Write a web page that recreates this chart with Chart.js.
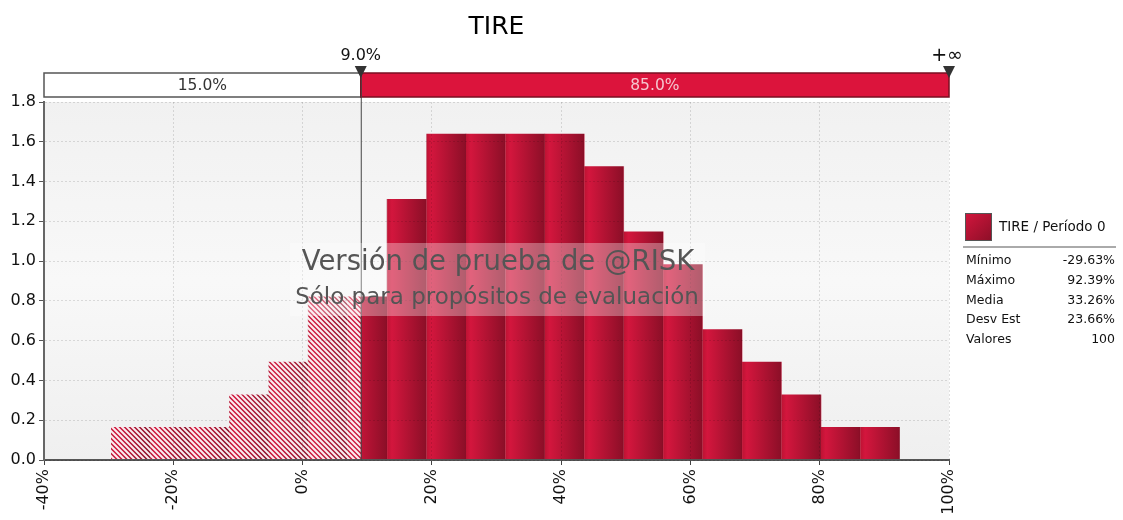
<!DOCTYPE html>
<html>
<head>
<meta charset="utf-8">
<script src="https://cdn.jsdelivr.net/npm/chart.js@4/dist/chart.umd.min.js"></script>
<style>
  html, body { margin: 0; padding: 0; background: #fff; }
  #wrap { width: 1123px; height: 520px; position: relative; }
</style>
</head>
<body>
<div id="wrap"><canvas id="hist"></canvas></div>
<script>
// histogram of TIRE (100 iterations), 20 bins
const binCenters = [-26.58, -20.48, -14.38, -8.28, -2.18, 3.92, 10.03, 16.13, 22.23, 28.33,
                    34.43, 40.53, 46.63, 52.73, 58.83, 64.93, 71.04, 77.14, 83.24, 89.34];
const binWidth = 6.101;
const density = [0.164, 0.164, 0.164, 0.328, 0.492, 0.820, 0.820, 1.311, 1.639, 1.639,
                 1.639, 1.639, 1.475, 1.147, 0.983, 0.656, 0.492, 0.328, 0.164, 0.164];
const xTicks = [-40, -20, 0, 20, 40, 60, 80, 100];
const yTicks = [0, 0.2, 0.4, 0.6, 0.8, 1.0, 1.2, 1.4, 1.6, 1.8];
const cutValue = 9.0;
const cutLabels = ['9.0%', '+∞'];
const shareLabels = ['15.0%', '85.0%'];
const statLabels = ['Mínimo', 'Máximo', 'Media', 'Desv Est', 'Valores'];
const statValues = ['-29.63%', '92.39%', '33.26%', '23.66%', '100'];
const seriesName = 'TIRE / Período 0';

const FONT = '"DejaVu Sans", Verdana, sans-serif';
const barLight = '#d3163d';
const barDark = '#8e0f28';

// builds a canvas-sized fill: per-bin shading, hatched left of the cut line
const fillPlugin = {
  id: 'fill',
  afterLayout(chart) {
    const x = chart.scales.x;
    const c = document.createElement('canvas');
    c.width = chart.width;
    c.height = chart.height;
    const g = c.getContext('2d');
    const cut = x.getPixelForValue(cutValue);
    binCenters.forEach(v => {
      const l = x.getPixelForValue(v - binWidth / 2);
      const r = x.getPixelForValue(v + binWidth / 2);
      const grad = g.createLinearGradient(l, 0, r, 0);
      grad.addColorStop(0, '#bd1333');
      grad.addColorStop(0.12, barLight);
      grad.addColorStop(0.96, barDark);
      grad.addColorStop(1, '#850d25');
      g.fillStyle = grad;
      g.fillRect(l, 0, r - l, c.height);
    });
    g.save();
    g.beginPath();
    g.rect(0, 0, cut, c.height);
    g.clip();
    g.strokeStyle = 'rgba(255,255,255,0.92)';
    g.lineWidth = 2;
    g.beginPath();
    for (let i = -c.height; i < cut + 5; i += 5) {
      g.moveTo(i, 0);
      g.lineTo(i + c.height, c.height);
    }
    g.stroke();
    g.restore();
    chart.$pattern = chart.ctx.createPattern(c, 'no-repeat');
  },
  beforeDraw(chart) {
    const {ctx, chartArea: a} = chart;
    ctx.save();
    const bg = ctx.createLinearGradient(0, a.top, 0, a.bottom);
    bg.addColorStop(0, '#f1f1f1');
    bg.addColorStop(0.5, '#f8f8f8');
    bg.addColorStop(1, '#efefef');
    ctx.fillStyle = bg;
    ctx.fillRect(a.left, a.top, a.right - a.left, a.bottom - a.top);
    ctx.restore();
  }
};

// title, threshold strip, watermark, stats legend
const decorPlugin = {
  id: 'decor',
  afterDraw(chart) {
    const {ctx, chartArea: a} = chart;
    const x = chart.scales.x;
    const cut = x.getPixelForValue(cutValue);
    const top = 73, bot = 97;
    ctx.save();

    ctx.fillStyle = '#000';
    ctx.textAlign = 'center';
    ctx.textBaseline = 'middle';
    ctx.font = '25px ' + FONT;
    ctx.fillText('TIRE', (a.left + a.right) / 2, 27);

    // strip
    ctx.fillStyle = '#fff';
    ctx.fillRect(a.left, top, cut - a.left, bot - top);
    ctx.strokeStyle = '#555';
    ctx.lineWidth = 1.5;
    ctx.strokeRect(a.left, top, cut - a.left, bot - top);
    ctx.fillStyle = '#dc143c';
    ctx.fillRect(cut, top, a.right - cut, bot - top);
    ctx.strokeStyle = '#7a0f22';
    ctx.strokeRect(cut, top, a.right - cut, bot - top);
    ctx.font = '15.5px ' + FONT;
    ctx.fillStyle = '#333';
    ctx.fillText(shareLabels[0], (a.left + cut) / 2, 86);
    ctx.fillStyle = '#f5c6cf';
    ctx.fillText(shareLabels[1], (cut + a.right) / 2, 86);

    // cut line
    ctx.strokeStyle = '#444';
    ctx.lineWidth = 1;
    ctx.beginPath();
    ctx.moveTo(cut + 0.5, top);
    ctx.lineTo(cut + 0.5, a.bottom);
    ctx.stroke();

    // markers
    [cut, a.right].forEach((px, i) => {
      ctx.fillStyle = '#333';
      ctx.beginPath();
      ctx.moveTo(px - 6, 66);
      ctx.lineTo(px + 6, 66);
      ctx.lineTo(px, 78);
      ctx.closePath();
      ctx.fill();
      ctx.fillStyle = '#111';
      ctx.font = (i ? '19px ' : '16px ') + FONT;
      ctx.fillText(cutLabels[i], px - (i ? 2 : 0), 56);
    });

    // watermark
    ctx.fillStyle = 'rgba(255,255,255,0.33)';
    ctx.fillRect(290, 243, 415, 73);
    ctx.fillStyle = '#555';
    ctx.font = '27.5px ' + FONT;
    ctx.fillText('Versión de prueba de @RISK', 498, 263);
    ctx.font = '23px ' + FONT;
    ctx.fillText('Sólo para propósitos de evaluación', 497, 298);

    // legend
    const sq = ctx.createLinearGradient(965, 213, 991, 240);
    sq.addColorStop(0, barLight);
    sq.addColorStop(1, barDark);
    ctx.fillStyle = sq;
    ctx.fillRect(965, 213, 26, 27);
    ctx.strokeStyle = '#555';
    ctx.lineWidth = 1;
    ctx.strokeRect(965.5, 213.5, 26, 27);
    ctx.textAlign = 'left';
    ctx.fillStyle = '#111';
    ctx.font = '13.5px ' + FONT;
    ctx.fillText(seriesName, 999, 227);
    ctx.strokeStyle = '#aaa';
    ctx.lineWidth = 2;
    ctx.beginPath();
    ctx.moveTo(963, 247);
    ctx.lineTo(1116, 247);
    ctx.stroke();
    ctx.font = '12.5px ' + FONT;
    statLabels.forEach((lab, i) => {
      const yy = 261 + i * 19.7;
      ctx.textAlign = 'left';
      ctx.fillText(lab, 966, yy);
      ctx.textAlign = 'right';
      ctx.fillText(statValues[i], 1115, yy);
    });
    ctx.restore();
  }
};

new Chart(document.getElementById('hist'), {
  type: 'bar',
  data: {
    datasets: [{
      label: seriesName,
      data: binCenters.map((c, i) => ({x: c, y: density[i]})),
      backgroundColor: c => c.chart.$pattern || barLight,
      borderWidth: 0,
      barPercentage: 1,
      categoryPercentage: 1
    }]
  },
  options: {
    responsive: true,
    maintainAspectRatio: false,
    animation: false,
    layout: { padding: { top: 102, right: 174, bottom: 0, left: 0 } },
    plugins: {
      legend: { display: false },
      tooltip: { enabled: false }
    },
    scales: {
      x: {
        type: 'linear',
        offset: false,
        min: -40,
        max: 100,
        afterBuildTicks: s => { s.ticks = xTicks.map(v => ({value: v})); },
        afterFit: s => { s.height = 60; },
        ticks: {
          maxRotation: 90,
          minRotation: 90,
          padding: 4,
          color: '#111',
          font: { family: FONT, size: 16 },
          callback: v => v + '%'
        },
        grid: { z: 1, offset: false, color: 'rgba(0,0,0,0.12)', tickColor: '#444', tickLength: 5 },
        border: { z: 1, color: '#555', width: 2, dash: [2, 2] }
      },
      y: {
        min: 0,
        max: 1.8,
        afterBuildTicks: s => { s.ticks = yTicks.map(v => ({value: v})); },
        afterFit: s => { s.width = 44; },
        ticks: {
          padding: 3,
          color: '#111',
          font: { family: FONT, size: 16 },
          callback: v => v.toFixed(1)
        },
        grid: { z: 1, color: 'rgba(0,0,0,0.12)', tickColor: '#555', tickLength: 5 },
        border: { z: 1, color: '#666', width: 2, dash: [2, 2] }
      }
    }
  },
  plugins: [fillPlugin, decorPlugin]
});
</script>
</body>
</html>
